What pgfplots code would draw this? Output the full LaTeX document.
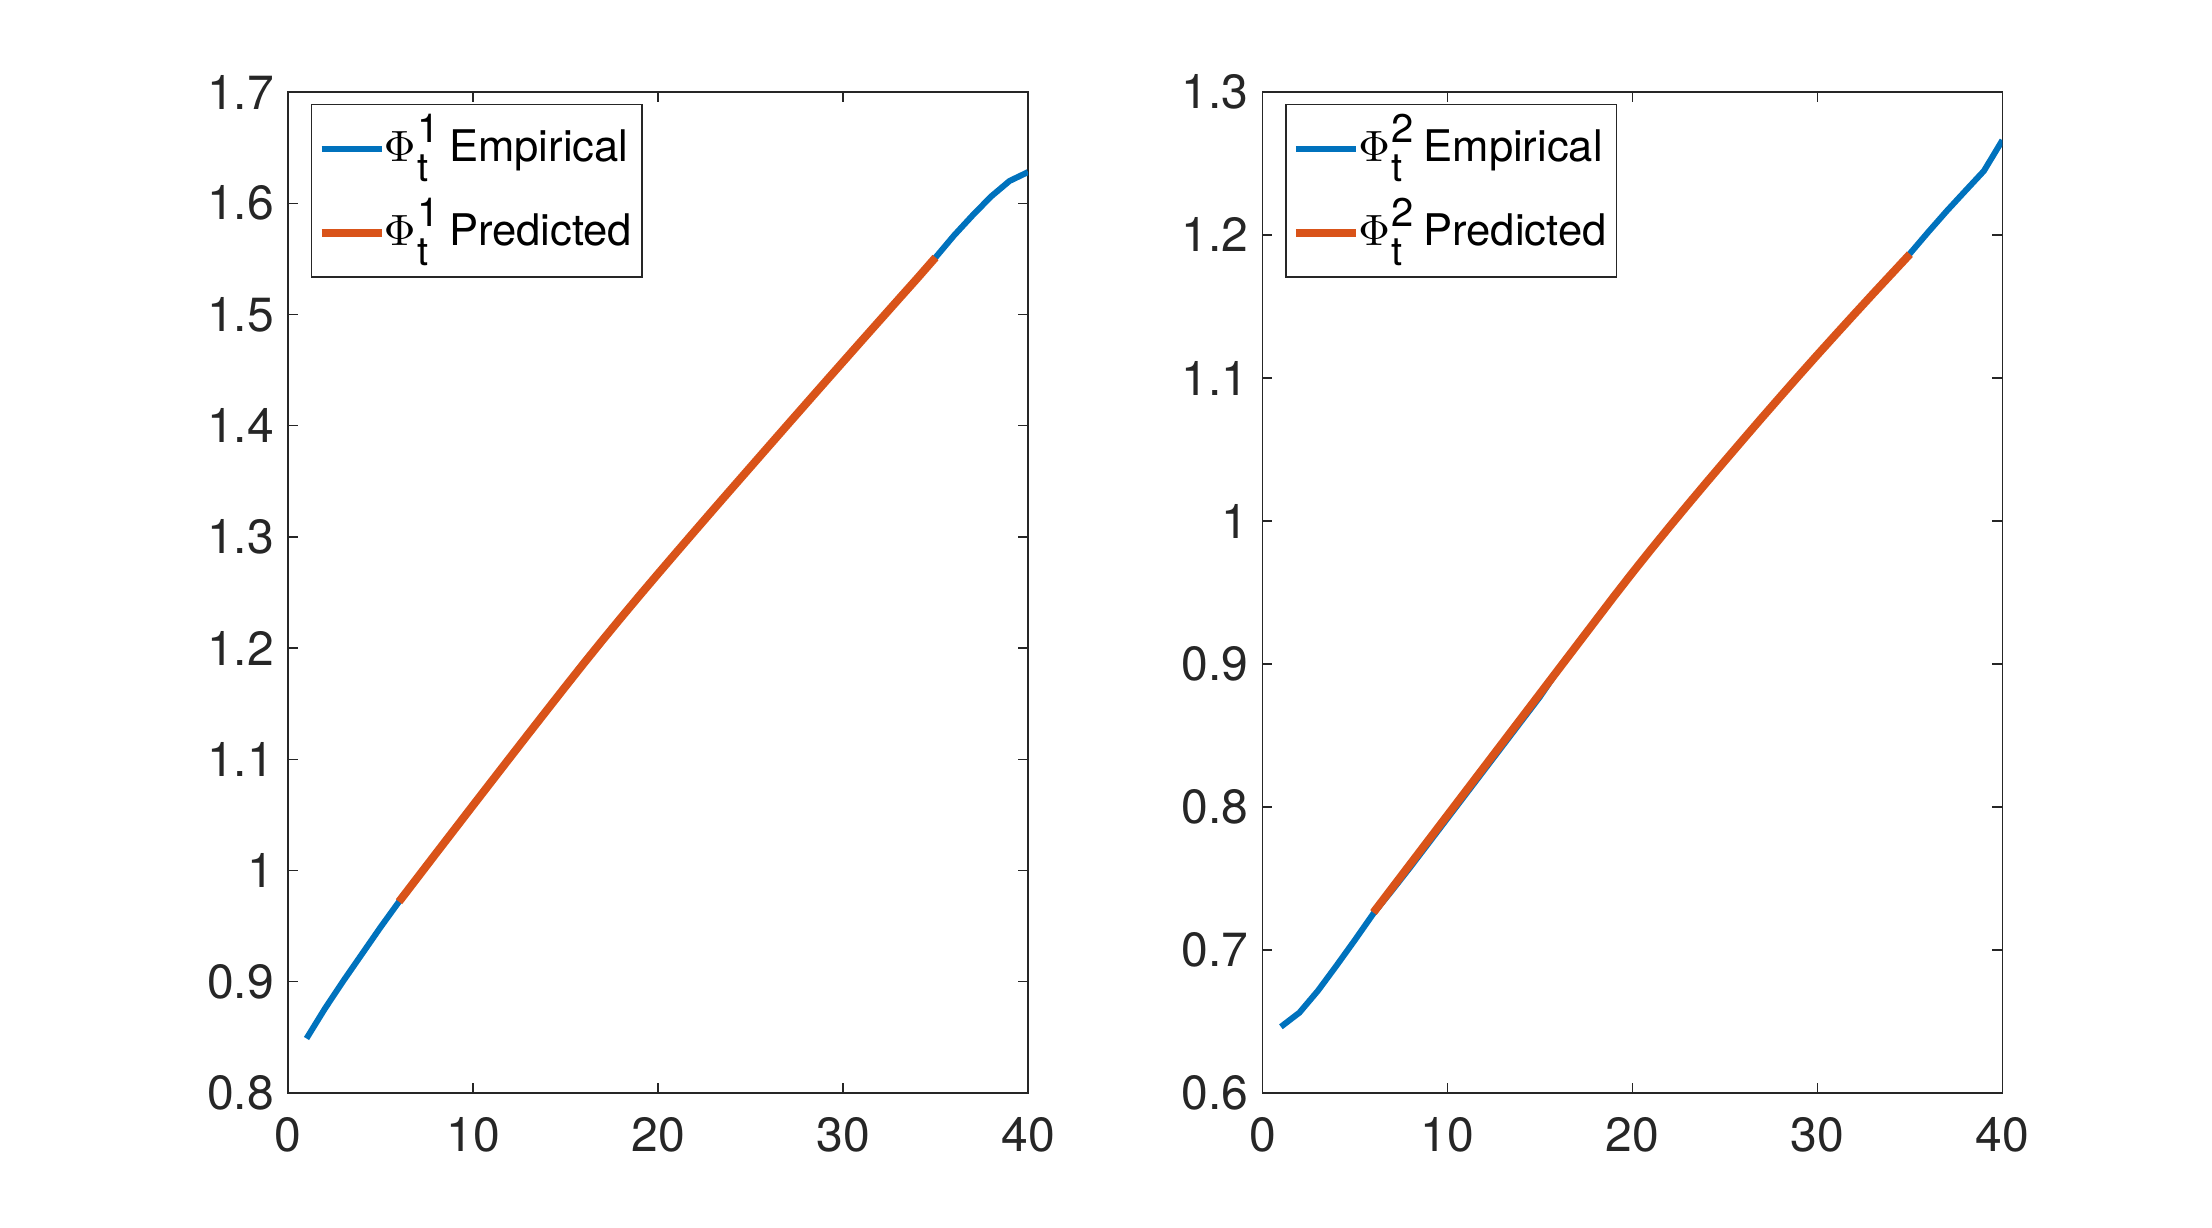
\documentclass[border=0pt]{standalone}
\usepackage{pgfplots}
\pgfplotsset{compat=1.18}
\usepackage{pgfplotstable}
\usepackage{fontspec}
\setmainfont{TeX Gyre Heros}
\definecolor{mblue}{HTML}{0072BD}
\definecolor{morange}{HTML}{D95319}
\definecolor{axgray}{HTML}{262626}

\pgfplotstableread{
x y
1 0.849
2 0.876
3 0.901
4 0.925
5 0.949
6 0.972
7 0.9937
8 1.0154
9 1.0370
10 1.0586
11 1.0801
12 1.1016
13 1.1230
14 1.1443
15 1.1655
16 1.1865
17 1.2071
18 1.2273
19 1.2472
20 1.2668
21 1.2862
22 1.3055
23 1.3247
24 1.3438
25 1.3628
26 1.3818
27 1.4008
28 1.4197
29 1.4386
30 1.4574
31 1.4762
32 1.4949
33 1.5136
34 1.5322
35 1.5512
36 1.5710
37 1.5890
38 1.6060
39 1.6200
40 1.6280
}\leftemp

\pgfplotstableread{
x y
6 0.972
7 0.9937
8 1.0154
9 1.0370
10 1.0586
11 1.0801
12 1.1016
13 1.1230
14 1.1443
15 1.1655
16 1.1865
17 1.2071
18 1.2273
19 1.2472
20 1.2668
21 1.2862
22 1.3055
23 1.3247
24 1.3438
25 1.3628
26 1.3818
27 1.4008
28 1.4197
29 1.4386
30 1.4574
31 1.4762
32 1.4949
33 1.5136
34 1.5322
35 1.5512
}\leftpred

\pgfplotstableread{
x y
1 0.6463
2 0.6562
3 0.6715
4 0.6890
5 0.7070
6 0.7255
7 0.7415
8 0.7580
9 0.7750
10 0.7920
11 0.8090
12 0.8260
13 0.8430
14 0.8600
15 0.8770
16 0.8960
17 0.9132
18 0.9302
19 0.9472
20 0.9638
21 0.9800
22 0.9959
23 1.0115
24 1.0269
25 1.0421
26 1.0572
27 1.0722
28 1.0870
29 1.1017
30 1.1162
31 1.1305
32 1.1447
33 1.1588
34 1.1727
35 1.1870
36 1.2022
37 1.2169
38 1.2309
39 1.2448
40 1.2663
}\rightemp

\pgfplotstableread{
x y
6 0.7262
7 0.7432
8 0.7602
9 0.7772
10 0.7942
11 0.8112
12 0.8282
13 0.8452
14 0.8622
15 0.8792
16 0.8962
17 0.9132
18 0.9302
19 0.9472
20 0.9638
21 0.9800
22 0.9959
23 1.0115
24 1.0269
25 1.0421
26 1.0572
27 1.0722
28 1.0870
29 1.1017
30 1.1162
31 1.1305
32 1.1447
33 1.1588
34 1.1727
35 1.1866
}\rightpred

\newcommand\scr[2]{\kern0.4pt\rlap{\raisebox{4.6pt}{\fontsize{10}{11}\selectfont #1}}\raisebox{-5pt}{\fontsize{10}{11}\selectfont #2}\kern5.2pt}

\pgfplotsset{
  mystyle/.style={
    scale only axis,
    anchor=south west,
    width=185pt, height=250.25pt,
    xmin=0, xmax=40,
    xtick={0,10,20,30,40},
    axis line style={axgray, line width=0.35pt},
    every tick/.style={axgray, line width=0.35pt},
    tick align=inside,
    major tick length=2.5pt,
    tick label style={font=\fontsize{12}{14}\selectfont, text=axgray},
    /pgf/number format/assume math mode=true,
    yticklabel style={/pgf/number format/fixed, /pgf/number format/precision=1},
    xticklabel style={yshift=-2.5pt},
    legend cell align=left,
    legend style={
      at={(0,1)}, anchor=north west, xshift=5.7pt, yshift=-2.9pt,
      draw=axgray, line width=0.35pt,
      font=\fontsize{10.9}{12}\selectfont,
      inner xsep=1.5pt, inner ysep=2.3pt,
      row sep=3.4pt,
      nodes={inner xsep=1pt, inner ysep=0.5pt, text height=11.4pt, text depth=5.2pt},
    },
    legend image code/.code={\draw[##1] (0pt,0pt) -- (15pt,0pt);},
  }
}

\begin{document}
\begin{tikzpicture}
\path[use as bounding box] (0,0) rectangle (553pt,307pt);
\begin{axis}[mystyle, at={(72pt,33.75pt)}, ymin=0.8, ymax=1.7,
  ytick={0.8,0.9,1.0,1.1,1.2,1.3,1.4,1.5,1.6,1.7}]
\addplot[mblue, line width=1.5pt] table[x=x,y=y] {\leftemp};
\addlegendentry{\kern-1.4pt$\Phi$\scr{1}{t}Empirical}
\addplot[morange, line width=2pt] table[x=x,y=y] {\leftpred};
\addlegendentry{\kern-1.4pt$\Phi$\scr{1}{t}Predicted}
\end{axis}
\begin{axis}[mystyle, at={(315.6pt,33.75pt)}, ymin=0.6, ymax=1.3,
  ytick={0.6,0.7,0.8,0.9,1.0,1.1,1.2,1.3}]
\addplot[mblue, line width=1.5pt] table[x=x,y=y] {\rightemp};
\addlegendentry{\kern-1.4pt$\Phi$\scr{2}{t}Empirical}
\addplot[morange, line width=2pt] table[x=x,y=y] {\rightpred};
\addlegendentry{\kern-1.4pt$\Phi$\scr{2}{t}Predicted}
\end{axis}
\end{tikzpicture}
\end{document}
